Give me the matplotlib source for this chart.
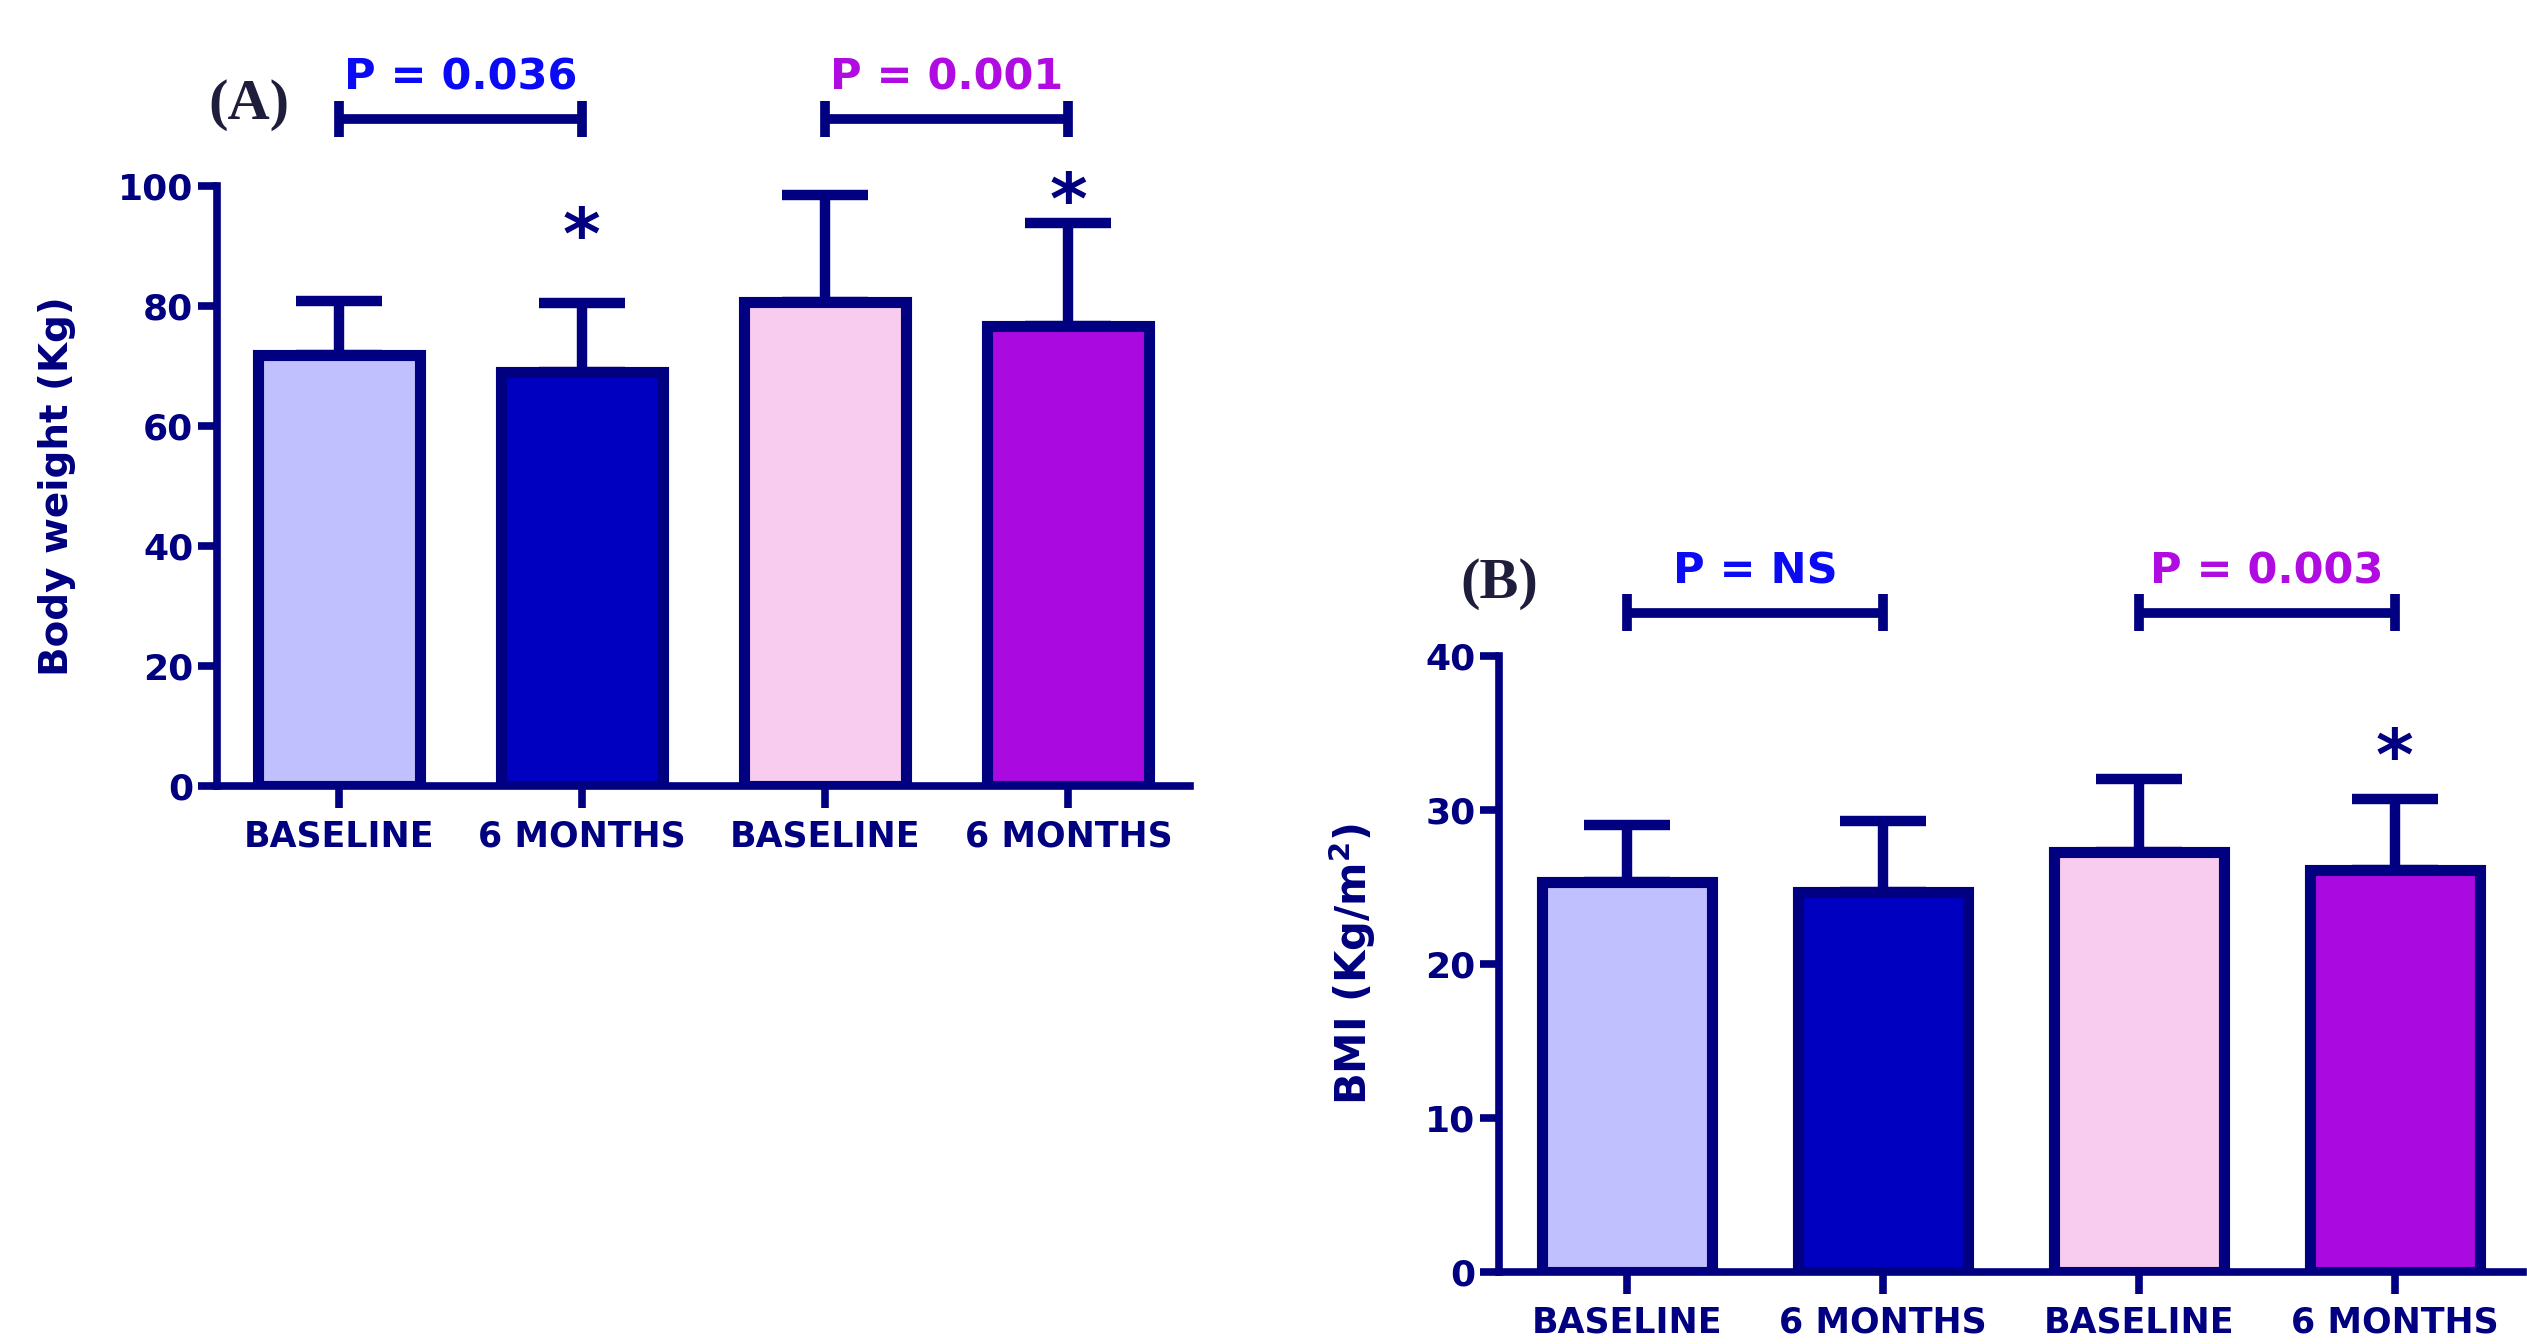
import numpy as np
import matplotlib
matplotlib.use("Agg")
from matplotlib import pyplot as plt

# data
groups = ["BASELINE", "6 MONTHS", "BASELINE", "6 MONTHS"]
bw_mean = [71.8, 69.0, 80.7, 76.6]
bw_sd = [9.1, 11.5, 17.8, 17.2]
bmi_mean = [25.3, 24.7, 27.3, 26.1]
bmi_sd = [3.7, 4.6, 4.7, 4.6]

bw_pvals = ["P = 0.036", "P = 0.001"]
bmi_pvals = ["P = NS", "P = 0.003"]
# (bar index, height of the asterisk)
bw_stars = [(1, 93.0), (3, 98.8)]
bmi_stars = [(3, 33.9)]

navy = "#000080"
fills = ["#C0C0FF", "#0000C0", "#F8CCEE", "#AA0ADF"]
pcolors = ["#0A0AF5", "#B00BE0"]

plt.rcParams["font.family"] = ["DejaVu Sans"]
plt.rcParams["font.weight"] = "bold"


def draw_panel(ax, mean, sd, ymax, step, ylabel, lab_fs, lab_x,
               pvals, bar_y, tick_h, stars, tag, tag_x, tag_y):
    x = np.arange(len(mean))
    ax.bar(x, mean, width=0.665, color=fills, edgecolor=navy,
           linewidth=8, zorder=3)
    ax.errorbar(x, mean, yerr=[np.zeros(len(sd)), sd], fmt="none",
                ecolor=navy, elinewidth=7.5, capsize=31, capthick=7.5,
                zorder=2)

    ax.set_xlim(-0.5, 3.5)
    ax.set_ylim(0, ymax)
    ax.set_yticks(np.arange(0, ymax + 1, step))
    ax.set_xticks(x)
    ax.set_xticklabels(groups, fontsize=25, color=navy, fontweight="bold")
    for t in ax.get_yticklabels():
        t.set_fontsize(26)
        t.set_color(navy)
        t.set_fontweight("bold")
    ax.tick_params(axis="y", length=14, width=5.5, color=navy, pad=3)
    ax.tick_params(axis="x", length=16, width=5.5, color=navy, pad=8)

    for s in ["top", "right"]:
        ax.spines[s].set_visible(False)
    for s in ["left", "bottom"]:
        ax.spines[s].set_linewidth(5.5)
        ax.spines[s].set_color(navy)
        ax.spines[s].set_capstyle("projecting")

    ax.set_ylabel(ylabel, fontsize=lab_fs, color=navy, fontweight="heavy")
    ax.yaxis.set_label_coords(lab_x, 0.5)

    # comparison brackets
    for i, txt in enumerate(pvals):
        x0, x1 = 2 * i, 2 * i + 1
        ax.plot([x0, x1], [bar_y, bar_y], color=navy, lw=7,
                solid_capstyle="butt", clip_on=False)
        for xe in (x0, x1):
            ax.plot([xe, xe], [bar_y - tick_h, bar_y + tick_h], color=navy,
                    lw=7, solid_capstyle="butt", clip_on=False)
        ax.annotate(txt, xy=((x0 + x1) / 2, bar_y), xytext=(0, 21),
                    textcoords="offset points", ha="center", va="baseline",
                    fontsize=31, fontweight="bold", color=pcolors[i],
                    annotation_clip=False)

    # shift so the glyph centre lands on the given height
    for k, sy in stars:
        ax.annotate("*", xy=(k, sy), xytext=(0, -22),
                    textcoords="offset points", ha="center", va="baseline",
                    fontsize=52, fontweight="bold", color=navy,
                    annotation_clip=False)

    ax.text(tag_x, tag_y, tag, ha="center", va="center", fontsize=42,
            fontweight="bold", family="Liberation Serif", color="#1e1e3c",
            clip_on=False)


fig = plt.figure(figsize=(25.27, 13.44), dpi=100)
axA = fig.add_axes([0.0859, 0.4152, 0.385, 0.4464])
axB = fig.add_axes([0.5932, 0.0536, 0.4052, 0.4583])

draw_panel(axA, bw_mean, bw_sd, 100, 20, "Body weight (Kg)", 28, -0.145,
           bw_pvals, 111.2, 3.0, bw_stars, "(A)", -0.37, 113.5)
draw_panel(axB, bmi_mean, bmi_sd, 40, 10, "BMI (Kg/m$^{\\mathbf{2}}$)", 30, -0.118,
           bmi_pvals, 42.8, 1.2, bmi_stars, "(B)", -0.5, 44.7)

fig.savefig("out.png", dpi=100)
